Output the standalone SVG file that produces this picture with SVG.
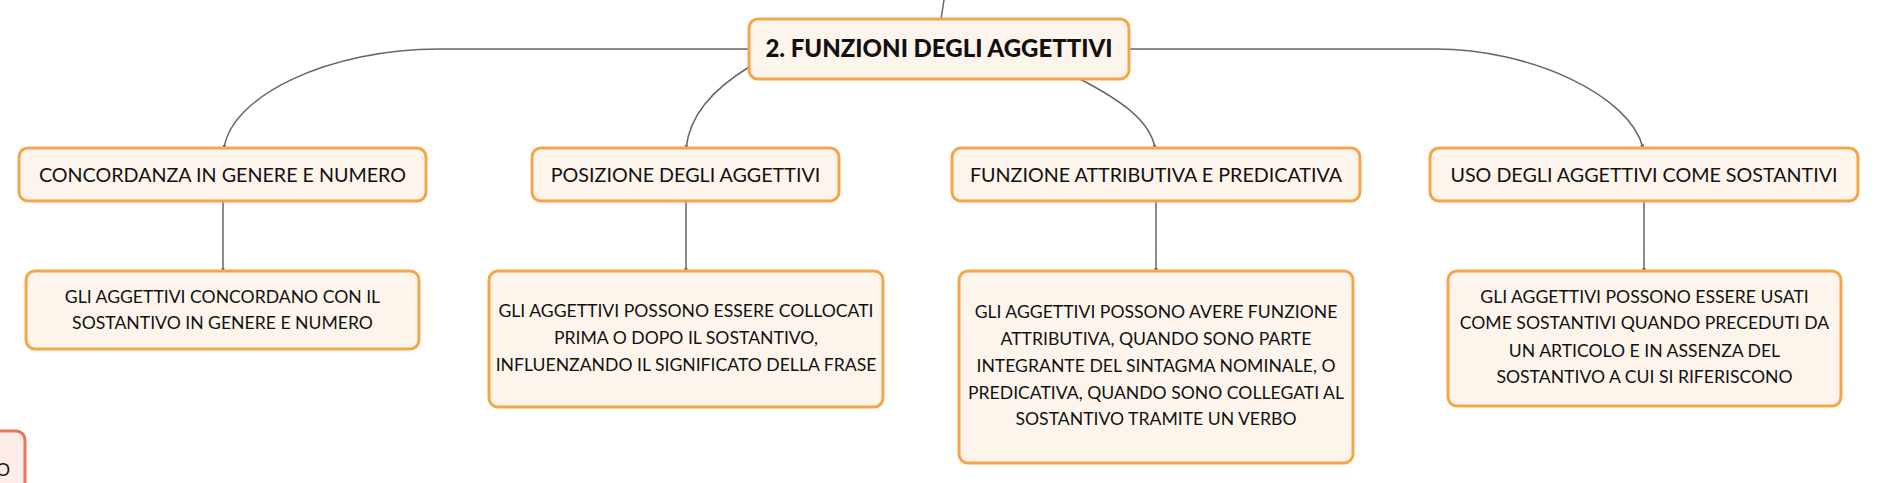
<svg xmlns="http://www.w3.org/2000/svg" width="1879" height="483" viewBox="0 0 1879 483">
<defs>
<style>
.box{fill:#fdf5ec;stroke:#f5a54a;stroke-width:3}
.red{fill:#fdece8;stroke:#e9735f;stroke-width:3}
.t{font-family:Lato,"Noto Sans",sans-serif;fill:#111;text-anchor:middle}
.h{font-size:19.7px}
.c{font-size:17.6px}
.r{font-size:24px;font-weight:900}
.ln{fill:none;stroke:#666;stroke-width:1.5}
</style>
<marker id="ar" viewBox="0 0 6 6" refX="5" refY="3" markerWidth="4" markerHeight="4" orient="auto" markerUnits="userSpaceOnUse">
<path d="M0,0 L6,3 L0,6 z" fill="#666"/>
</marker>
</defs>
<rect width="1879" height="483" fill="#fff"/>
<g id="connectors">
<path class="ln" d="M944,0 L941,19"/>
<path class="ln" d="M749,49 L439,49 C330,49 232,95 224,148" marker-end="url(#ar)"/>
<path class="ln" d="M749,67 C712,90 690,115 686,148" marker-end="url(#ar)"/>
<path class="ln" d="M1080,79 C1120,100 1150,120 1155,148" marker-end="url(#ar)"/>
<path class="ln" d="M1129,49 L1436,49 C1530,49 1630,95 1643,148" marker-end="url(#ar)"/>
<path class="ln" d="M223,201 L223,271" marker-end="url(#ar)"/>
<path class="ln" d="M686,201 L686,271" marker-end="url(#ar)"/>
<path class="ln" d="M1156,201 L1156,271" marker-end="url(#ar)"/>
<path class="ln" d="M1644,201 L1644,271" marker-end="url(#ar)"/>
</g>
<g id="root">
<rect class="box" x="749" y="19" width="380" height="60" rx="9"/>
<text class="t r" x="939" y="57">2. FUNZIONI DEGLI AGGETTIVI</text>
</g>
<g id="n1">
<rect class="box" x="19" y="148" width="407" height="53" rx="9"/>
<text class="t h" x="222.5" y="182">CONCORDANZA IN GENERE E NUMERO</text>
</g>
<g id="n2">
<rect class="box" x="532" y="148" width="307" height="53" rx="9"/>
<text class="t h" x="685.5" y="182">POSIZIONE DEGLI AGGETTIVI</text>
</g>
<g id="n3">
<rect class="box" x="952" y="148" width="408" height="53" rx="9"/>
<text class="t h" x="1156" y="182">FUNZIONE ATTRIBUTIVA E PREDICATIVA</text>
</g>
<g id="n4">
<rect class="box" x="1430" y="148" width="428" height="53" rx="9"/>
<text class="t h" x="1644" y="182">USO DEGLI AGGETTIVI COME SOSTANTIVI</text>
</g>
<g id="c1">
<rect class="box" x="26" y="271" width="393" height="78" rx="9"/>
<text class="t c" x="222.5" y="303">GLI AGGETTIVI CONCORDANO CON IL</text>
<text class="t c" x="222.5" y="329">SOSTANTIVO IN GENERE E NUMERO</text>
</g>
<g id="c2">
<rect class="box" x="489" y="271" width="394" height="136" rx="9"/>
<text class="t c" x="686" y="317">GLI AGGETTIVI POSSONO ESSERE COLLOCATI</text>
<text class="t c" x="686" y="344">PRIMA O DOPO IL SOSTANTIVO,</text>
<text class="t c" x="686" y="371">INFLUENZANDO IL SIGNIFICATO DELLA FRASE</text>
</g>
<g id="c3">
<rect class="box" x="959" y="271" width="394" height="192" rx="9"/>
<text class="t c" x="1156" y="318">GLI AGGETTIVI POSSONO AVERE FUNZIONE</text>
<text class="t c" x="1156" y="345">ATTRIBUTIVA, QUANDO SONO PARTE</text>
<text class="t c" x="1156" y="372">INTEGRANTE DEL SINTAGMA NOMINALE, O</text>
<text class="t c" x="1156" y="399">PREDICATIVA, QUANDO SONO COLLEGATI AL</text>
<text class="t c" x="1156" y="425">SOSTANTIVO TRAMITE UN VERBO</text>
</g>
<g id="c4">
<rect class="box" x="1448" y="271" width="393" height="135" rx="9"/>
<text class="t c" x="1644.5" y="303">GLI AGGETTIVI POSSONO ESSERE USATI</text>
<text class="t c" x="1644.5" y="329">COME SOSTANTIVI QUANDO PRECEDUTI DA</text>
<text class="t c" x="1644.5" y="357">UN ARTICOLO E IN ASSENZA DEL</text>
<text class="t c" x="1644.5" y="383">SOSTANTIVO A CUI SI RIFERISCONO</text>
</g>
<g id="partial">
<rect class="red" x="-30" y="431" width="55" height="80" rx="9"/>
<text class="t c" x="10" y="476" style="text-anchor:end">O</text>
</g>
</svg>
